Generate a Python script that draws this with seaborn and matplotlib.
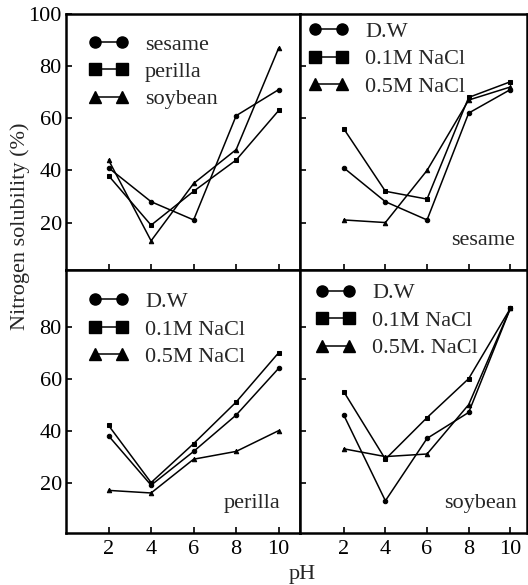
import matplotlib
matplotlib.use("Agg")
import matplotlib.pyplot as plt
import seaborn as sns
from matplotlib.lines import Line2D

sns.set_theme(style="ticks")
plt.rcParams["font.family"] = ["Liberation Serif", "DejaVu Serif"]

# ── data ────────────────────────────────────────────────────
PH = [2, 4, 6, 8, 10]

# panel 1: distilled water, three seeds
SEED_LABELS = ["sesame", "perilla", "soybean"]
sesame_dw_all = [41, 28, 21, 61, 71]
perilla_dw_all = [38, 19, 32, 44, 63]
soybean_dw_all = [44, 13, 35, 48, 87]

SOLVENT_LABELS = ["D.W", "0.1M NaCl", "0.5M NaCl"]
SOLVENT_LABELS_BR = ["D.W", "0.1M NaCl", "0.5M. NaCl"]

sesame_dw = [41, 28, 21, 62, 71]
sesame_01 = [56, 32, 29, 68, 74]
sesame_05 = [21, 20, 40, 67, 72]

perilla_dw = [38, 19, 32, 46, 64]
perilla_01 = [42, 20, 35, 51, 70]
perilla_05 = [17, 16, 29, 32, 40]

soybean_dw = [46, 13, 37, 47, 87]
soybean_01 = [55, 29, 45, 60, 87]
soybean_05 = [33, 30, 31, 50, 87]

MARKERS = ["o", "s", "^"]
FS = 16

# ── layout ─────────────────────────────────────────────────
fig = plt.figure(figsize=(5.28, 5.85), dpi=100)
L, M, R = 66 / 528, 300 / 528, 527 / 528
T, C, B = 1 - 14 / 585, 1 - 270 / 585, 1 - 533 / 585

ax_tl = fig.add_axes([L, C, M - L, T - C])
ax_tr = fig.add_axes([M, C, R - M, T - C])
ax_bl = fig.add_axes([L, B, M - L, C - B])
ax_br = fig.add_axes([M, B, R - M, C - B])


def draw_panel(ax, series, labels, xlim, ylim, leg_x, leg_y, name=None, name_xy=None):
    for vals, mk in zip(series, MARKERS):
        sns.lineplot(x=PH, y=vals, ax=ax, color="black", linewidth=1.1,
                     marker=mk, markersize=3.2, markeredgecolor="black",
                     legend=False)
    handles = [Line2D([0], [0], color="black", lw=1.1, marker=mk, markersize=8)
               for mk in MARKERS]
    ax.legend(handles, labels, loc="upper left", bbox_to_anchor=(leg_x, leg_y),
              frameon=False, numpoints=2, handlelength=1.8, handletextpad=0.75,
              labelspacing=0.31, borderpad=0, borderaxespad=0, fontsize=FS)
    if name:
        ax.text(name_xy[0], name_xy[1], name, transform=ax.transAxes,
                ha="right", va="center", fontsize=FS)
    ax.set_xlim(*xlim)
    ax.set_ylim(*ylim)
    ax.set_xticks(PH)
    ax.set_xlabel("")
    ax.set_ylabel("")
    for sp in ax.spines.values():
        sp.set_linewidth(1.8)
        sp.set_color("black")
    ax.tick_params(direction="in", length=4, width=1.2, labelsize=FS,
                   colors="black", pad=3)


draw_panel(ax_tl, [sesame_dw_all, perilla_dw_all, soybean_dw_all], SEED_LABELS,
           (0, 11), (1.8, 100), 0.095, 0.922)
draw_panel(ax_tr, [sesame_dw, sesame_01, sesame_05], SOLVENT_LABELS,
           (-0.1, 10.8), (1.8, 100), 0.037, 0.971, "sesame", (0.947, 0.117))
draw_panel(ax_bl, [perilla_dw, perilla_01, perilla_05], SOLVENT_LABELS,
           (0, 11), (0.6, 101.8), 0.095, 0.918, "perilla", (0.915, 0.114))
draw_panel(ax_br, [soybean_dw, soybean_01, soybean_05], SOLVENT_LABELS_BR,
           (-0.1, 10.8), (0.6, 101.8), 0.067, 0.951, "soybean", (0.956, 0.114))

ax_tl.set_yticks([20, 40, 60, 80, 100])
ax_tr.set_yticks([20, 40, 60, 80])
ax_bl.set_yticks([20, 40, 60, 80])
ax_br.set_yticks([20, 40, 60, 80])

for ax in (ax_tl, ax_tr):
    ax.tick_params(labelbottom=False)
for ax in (ax_tr, ax_br):
    ax.tick_params(labelleft=False)
for ax in (ax_bl, ax_br):
    ax.tick_params(axis="x", pad=5)

fig.text(20 / 528, 1 - 226 / 585, "Nitrogen solubility (%)", rotation=90,
         ha="center", va="center", fontsize=FS)
fig.text(302 / 528, 1 - 575 / 585, "pH", ha="center", va="center", fontsize=FS)

fig.savefig("out.png", dpi=100)
